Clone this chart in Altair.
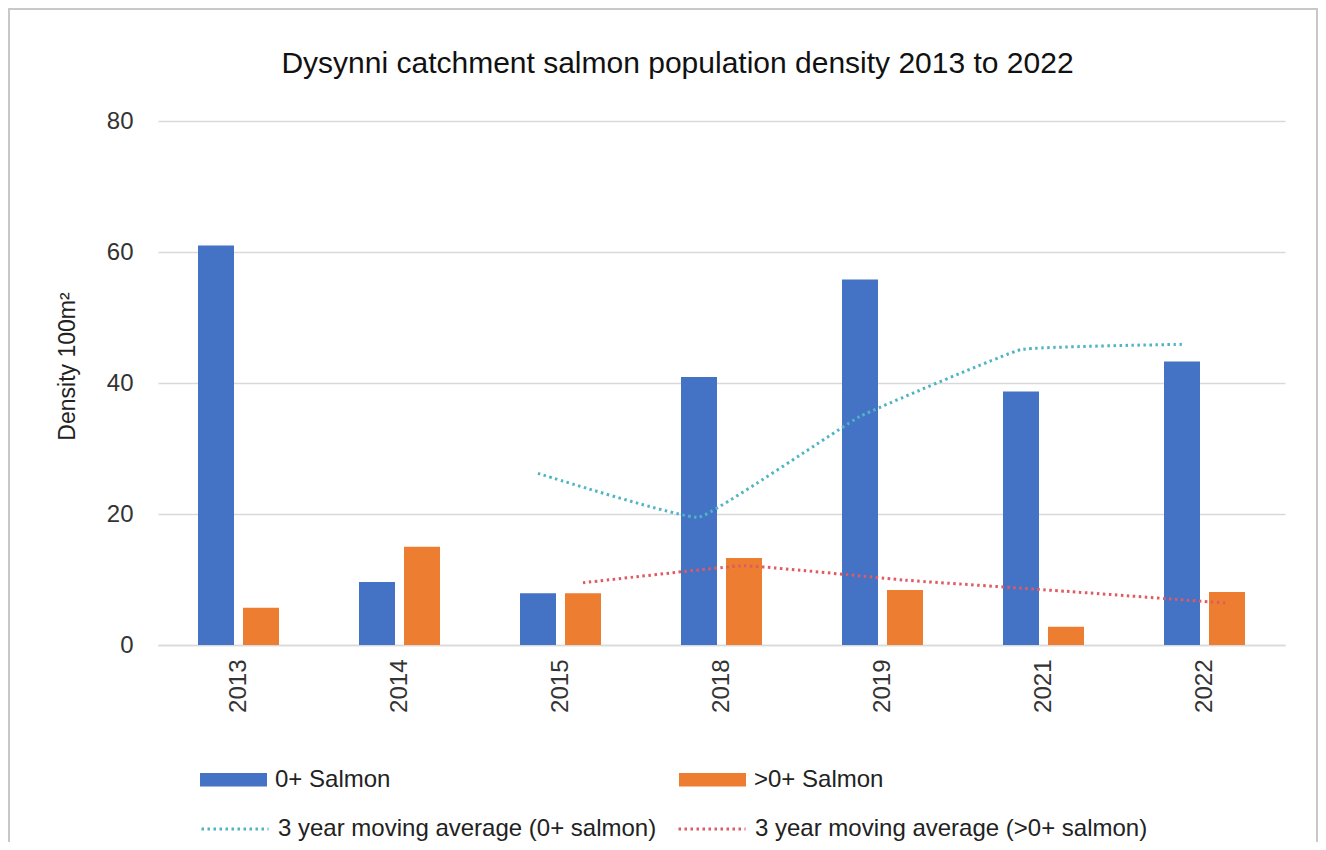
import altair as alt
import pandas as pd

years = ["2013", "2014", "2015", "2018", "2019", "2021", "2022"]
salmon_0 = [61.0, 9.6, 7.9, 40.9, 55.8, 38.7, 43.3]
salmon_gt0 = [5.7, 15.0, 7.9, 13.3, 8.4, 2.8, 8.1]

ma_years = ["2015", "2018", "2019", "2021", "2022"]
ma_0 = [26.2, 19.5, 34.9, 45.1, 45.9]
ma_gt0 = [9.5, 12.1, 9.9, 8.2, 6.4]

bar_series = ["0+ Salmon", ">0+ Salmon"]
line_series = ["3 year moving average (0+ salmon)", "3 year moving average (>0+ salmon)"]
bar_colors = ["#4472C4", "#ED7D31"]
line_colors = ["#4FB5C4", "#E05A63"]

bars_df = pd.DataFrame(
    [{"year": y, "series": bar_series[0], "grp": bar_series[0], "value": v} for y, v in zip(years, salmon_0)]
    + [{"year": y, "series": bar_series[1], "grp": bar_series[1], "value": v} for y, v in zip(years, salmon_gt0)]
)
lines_df = pd.DataFrame(
    [{"year": y, "series": line_series[0], "grp": bar_series[0], "value": v} for y, v in zip(ma_years, ma_0)]
    + [{"year": y, "series": line_series[1], "grp": bar_series[1], "value": v} for y, v in zip(ma_years, ma_gt0)]
)

FONT = "Liberation Sans"

x_enc = alt.X("year:N", sort=years, title=None,
              scale=alt.Scale(domain=years, paddingInner=0.441, paddingOuter=0.2205),
              axis=alt.Axis(labelAngle=-90, ticks=False, labelPadding=14, labelFontSize=24,
                            labelFont=FONT, labelColor="#333333", domainColor="#D9D9D9",
                            domainWidth=1.5, grid=False))
xoff_enc = alt.XOffset("grp:N", sort=bar_series,
                       scale=alt.Scale(domain=bar_series, paddingInner=0.2, paddingOuter=0.1))
y_enc = alt.Y("value:Q", title="Density 100m²",
              scale=alt.Scale(domain=[0, 80], nice=False),
              axis=alt.Axis(values=[0, 20, 40, 60, 80], ticks=False, domain=False, labelPadding=25,
                            labelFontSize=24, labelFont=FONT, labelColor="#333333",
                            gridColor="#D9D9D9", gridWidth=1.5,
                            titleFontSize=23, titleFont=FONT, titleFontWeight="normal",
                            titleColor="#222222", titleX=-79, titleY=245, titleAngle=-90,
                            titleBaseline="bottom", titleAlign="center"))

fill_enc = alt.Fill(
    "series:N", sort=bar_series,
    scale=alt.Scale(domain=bar_series, range=bar_colors),
    legend=alt.Legend(
        title=None, orient="none", legendX=42, legendY=625, direction="horizontal",
        columns=2, columnPadding=288, labelFontSize=24, labelFont=FONT,
        labelColor="#222222", labelOffset=8, symbolSize=4489, labelLimit=600,
        symbolType="M-1,-0.2H1V0.2H-1Z", symbolStrokeWidth=0, symbolOpacity=1,
    ),
)
stroke_enc = alt.Stroke(
    "series:N", sort=line_series,
    scale=alt.Scale(domain=line_series, range=line_colors),
    legend=alt.Legend(
        title=None, orient="none", legendX=42, legendY=673, direction="horizontal",
        columns=2, columnPadding=15, labelFontSize=24, labelFont=FONT,
        labelColor="#222222", labelOffset=8, symbolSize=4489, labelLimit=600,
        symbolType="M-1,0H1", symbolDash=[2.5, 3.5], symbolStrokeWidth=3,
        symbolFillColor="transparent", symbolOpacity=1,
    ),
)

bars = alt.Chart(bars_df).mark_bar(opacity=1).encode(
    x=x_enc, xOffset=xoff_enc, y=y_enc, fill=fill_enc
)

lines = alt.Chart(lines_df).mark_line(
    strokeWidth=3, strokeDash=[2.5, 3.5], interpolate="cardinal", tension=0.75
).encode(
    x=x_enc, xOffset=xoff_enc, y=y_enc, stroke=stroke_enc, detail="series:N"
)

frame = alt.Chart(pd.DataFrame({"k": [0]})).mark_rect(
    fill="transparent", stroke="#C8C8C8", strokeWidth=2
).encode(x=alt.value(-149), x2=alt.value(1159), y=alt.value(-112), y2=alt.value(730))

chart = alt.layer(frame, bars, lines).properties(
    width=1127, height=524,
    autosize=alt.AutoSizeParams(type="none"),
    padding={"left": 150, "top": 113, "right": 33, "bottom": 197},
    background="white",
    title=alt.TitleParams(
        "Dysynni catchment salmon population density 2013 to 2022",
        font=FONT, fontSize=30, fontWeight="normal", color="#111111",
        anchor="middle", frame="group", dx=-44, offset=-95, baseline="alphabetic",
    ),
).configure_view(stroke=None)

chart.save("out.html", embed_options={"renderer": "svg", "actions": False})
